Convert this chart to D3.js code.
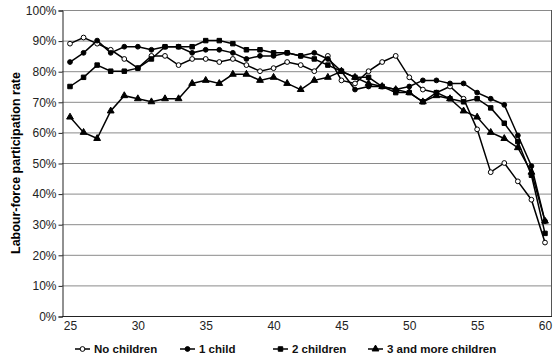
<!DOCTYPE html>
<html>
<head>
<meta charset="utf-8">
<script src="https://cdn.jsdelivr.net/npm/d3@7"></script>
<style>
  body { margin: 0; background: #fff; }
  text { font-family: "Liberation Sans", Arial, sans-serif; }
</style>
</head>
<body>
<div id="chart"></div>
<script>
// ages on the x axis
const ages = d3.range(25, 61);

// participation rates (%)
const noChildren = [89, 91, 89, 87, 84, 81, 85, 85, 82, 84, 84, 83, 84, 82, 80, 81, 83, 82, 80, 85,
    77, 76, 80, 83, 85, 78, 74, 73, 75, 71, 61, 47, 50, 44, 38, 24];
const oneChild = [83, 86, 90, 86, 88, 88, 87, 88, 88, 86, 87, 87, 86, 84, 85, 85, 86, 85, 86, 84,
    80, 74, 75, 75, 74, 75, 77, 77, 76, 76, 73, 71, 69, 59, 49, 31];
const twoChildren = [75, 78, 82, 80, 80, 81, 84, 88, 88, 88, 90, 90, 89, 87, 87, 86, 86, 85, 84, 82,
    80, 78, 78, 75, 73, 73, 70, 73, 71, 70, 71, 68, 63, 57, 46, 27];
const threeMore = [65, 60, 58, 67, 72, 71, 70, 71, 71, 76, 77, 76, 79, 79, 77, 78, 76, 74, 77, 78,
    80, 78, 76, 75, 74, 73, 70, 72, 71, 67, 65, 60, 58, 55, 47, 31];

const seriesNames = ["No children", "1 child", "2 children", "3 and more children"];
const yTicks = d3.range(0, 101, 10);
const xTicks = [25, 30, 35, 40, 45, 50, 55, 60];

const series = [
    { name: seriesNames[0], values: noChildren, symbol: d3.symbolCircle, size: 18, fill: "#fff" },
    { name: seriesNames[1], values: oneChild, symbol: d3.symbolCircle, size: 18, fill: "#000" },
    { name: seriesNames[2], values: twoChildren, symbol: d3.symbolSquare, size: 20, fill: "#000" },
    { name: seriesNames[3], values: threeMore, symbol: d3.symbolTriangle, size: 20, fill: "#000" }
];

const width = 553, height = 355;
const plot = { left: 62, right: 551, top: 10, bottom: 316 };

const svg = d3.select("#chart")
    .append("svg")
    .attr("width", width)
    .attr("height", height);

const x = d3.scaleLinear().domain([25, 60]).range([70, 545]);
const y = d3.scaleLinear().domain([0, 100]).range([plot.bottom, plot.top]);

// gridlines
svg.append("g")
    .selectAll("line")
    .data(yTicks.filter(d => d > 0))
    .join("line")
    .attr("x1", plot.left)
    .attr("x2", plot.right)
    .attr("y1", d => y(d) + 0.5)
    .attr("y2", d => y(d) + 0.5)
    .attr("stroke", "#8a8a8a")
    .attr("stroke-width", 1);

// right border
svg.append("line")
    .attr("x1", plot.right + 0.5).attr("x2", plot.right + 0.5)
    .attr("y1", plot.top).attr("y2", plot.bottom)
    .attr("stroke", "#555");

// y axis
const yAxis = svg.append("g")
    .attr("transform", `translate(${plot.left + 0.5},0.5)`)
    .call(d3.axisLeft(y).tickValues(yTicks).tickFormat(d => d + "%").tickSize(4).tickPadding(2));
yAxis.select(".domain").attr("stroke", "#222");
yAxis.selectAll(".tick line").attr("stroke", "#222");
yAxis.selectAll("text").attr("font-size", 12).attr("fill", "#222");

// x axis
const xAxis = svg.append("g")
    .attr("transform", `translate(0,${plot.bottom + 0.5})`)
    .call(d3.axisBottom(x).tickValues(xTicks).tickSize(0).tickPadding(5).tickSizeOuter(0));
xAxis.select(".domain")
    .attr("d", `M${plot.left},0H${plot.right + 1}`)
    .attr("stroke", "#222");
xAxis.selectAll("text").attr("font-size", 12).attr("fill", "#222");

// y axis title
svg.append("text")
    .attr("transform", `translate(20,${(plot.top + plot.bottom) / 2}) rotate(-90)`)
    .attr("text-anchor", "middle")
    .attr("font-size", 12.5)
    .attr("font-weight", "bold")
    .text("Labour-force participation rate");

const line = d3.line()
    .x((d, i) => x(ages[i]))
    .y(d => y(d));

// draw lines first, then markers
series.forEach(s => {
    svg.append("path")
        .datum(s.values)
        .attr("fill", "none")
        .attr("stroke", "#000")
        .attr("stroke-width", 1.5)
        .attr("d", line);
});

series.forEach(s => {
    svg.append("g")
        .selectAll("path")
        .data(s.values)
        .join("path")
        .attr("transform", (d, i) => `translate(${x(ages[i])},${y(d)})`)
        .attr("d", d3.symbol().type(s.symbol).size(s.size))
        .attr("fill", s.fill)
        .attr("stroke", "#000")
        .attr("stroke-width", 1);
});

// legend
const legendX = [75, 180, 273, 368];
const legend = svg.append("g").attr("transform", "translate(0,349)");
series.forEach((s, i) => {
    const g = legend.append("g").attr("transform", `translate(${legendX[i]},0)`);
    g.append("line")
        .attr("x1", 0).attr("x2", 15)
        .attr("y1", 0).attr("y2", 0)
        .attr("stroke", "#000").attr("stroke-width", 1.5);
    g.append("path")
        .attr("transform", "translate(7.5,0)")
        .attr("d", d3.symbol().type(s.symbol).size(s.size))
        .attr("fill", s.fill)
        .attr("stroke", "#000");
    g.append("text")
        .attr("x", 19)
        .attr("y", 4)
        .attr("font-size", 11.5)
        .attr("font-weight", "bold")
        .attr("fill", "#111")
        .text(s.name);
});
</script>
</body>
</html>
